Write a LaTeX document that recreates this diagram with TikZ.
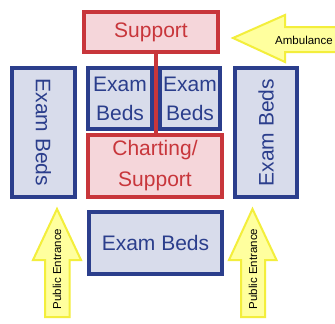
\documentclass[tikz,border=0pt]{standalone}
\usepackage{fontspec}
\setmainfont{Liberation Sans}
\definecolor{navy}{HTML}{2B3E8C}
\definecolor{bedfill}{HTML}{D8DCEB}
\definecolor{crimson}{HTML}{C8363B}
\definecolor{supfill}{HTML}{F5D6DA}
\definecolor{arrowline}{HTML}{F3EE3C}
\definecolor{arrowfill}{HTML}{FFFF9E}
\begin{document}
\begin{tikzpicture}[x=1pt,y=-1pt,
  bed/.style={draw=navy, fill=bedfill, line width=3.6pt, text=navy,
    font=\fontsize{21}{29}\selectfont, align=center, inner sep=0pt},
  sup/.style={draw=crimson, fill=supfill, line width=3.6pt, text=crimson,
    font=\fontsize{21}{31}\selectfont, align=center, inner sep=0pt},
  way/.style={draw=arrowline, fill=arrowfill, line width=2pt, line join=miter},
  waytext/.style={font=\fontsize{11.5}{13}\selectfont, text=black, inner sep=0pt}]
\useasboundingbox (0,0) rectangle (335,324);
\fill[white] (0,0) rectangle (335,324);

% central link between the two support areas (drawn first, boxes cover its ends)
\coordinate (lk) at (156,0);
\node[sup, minimum width=134pt, minimum height=40pt] (support) at (151,32) {Support};
\node[sup, minimum width=134pt, minimum height=62pt] (charting) at (155,166) {Charting/\\Support};
\draw[crimson, line width=3.6pt] (lk |- support.south) -- (lk |- charting.north);

% exam bed areas
\node[bed, rotate=-90, minimum width=129pt, minimum height=63pt] (westbeds) at (43.5,132.5) {Exam Beds};
\node[bed, rotate=90, minimum width=129pt, minimum height=62pt] (eastbeds) at (266,132.5) {Exam Beds};
\node[bed, minimum width=64pt, minimum height=61pt] (bedsA) at (120,98.5) {Exam\\Beds};
\node[bed, minimum width=60pt, minimum height=61pt] (bedsB) at (190,98.5) {Exam\\Beds};
\node[bed, minimum width=133pt, minimum height=62pt] (southbeds) at (155.5,243) {Exam Beds};

% entrances
\draw[way] (233,38) -- (285,15) -- (285,27) -- (340,27) -- (340,52) -- (285,52) -- (285,62) -- cycle;
\node[waytext] (ambulance) at (304,40) {Ambulance};
\draw[way] (57,209) -- (81,260) -- (69.5,260) -- (69.5,317) -- (45,317) -- (45,260) -- (33,260) -- cycle;
\node[waytext, rotate=90] (westdoor) at (57,269) {Public Entrance};
\draw[way] (252.5,209) -- (276.5,260) -- (265,260) -- (265,317) -- (241,317) -- (241,260) -- (229,260) -- cycle;
\node[waytext, rotate=90] (eastdoor) at (253,269) {Public Entrance};
\end{tikzpicture}
\end{document}
